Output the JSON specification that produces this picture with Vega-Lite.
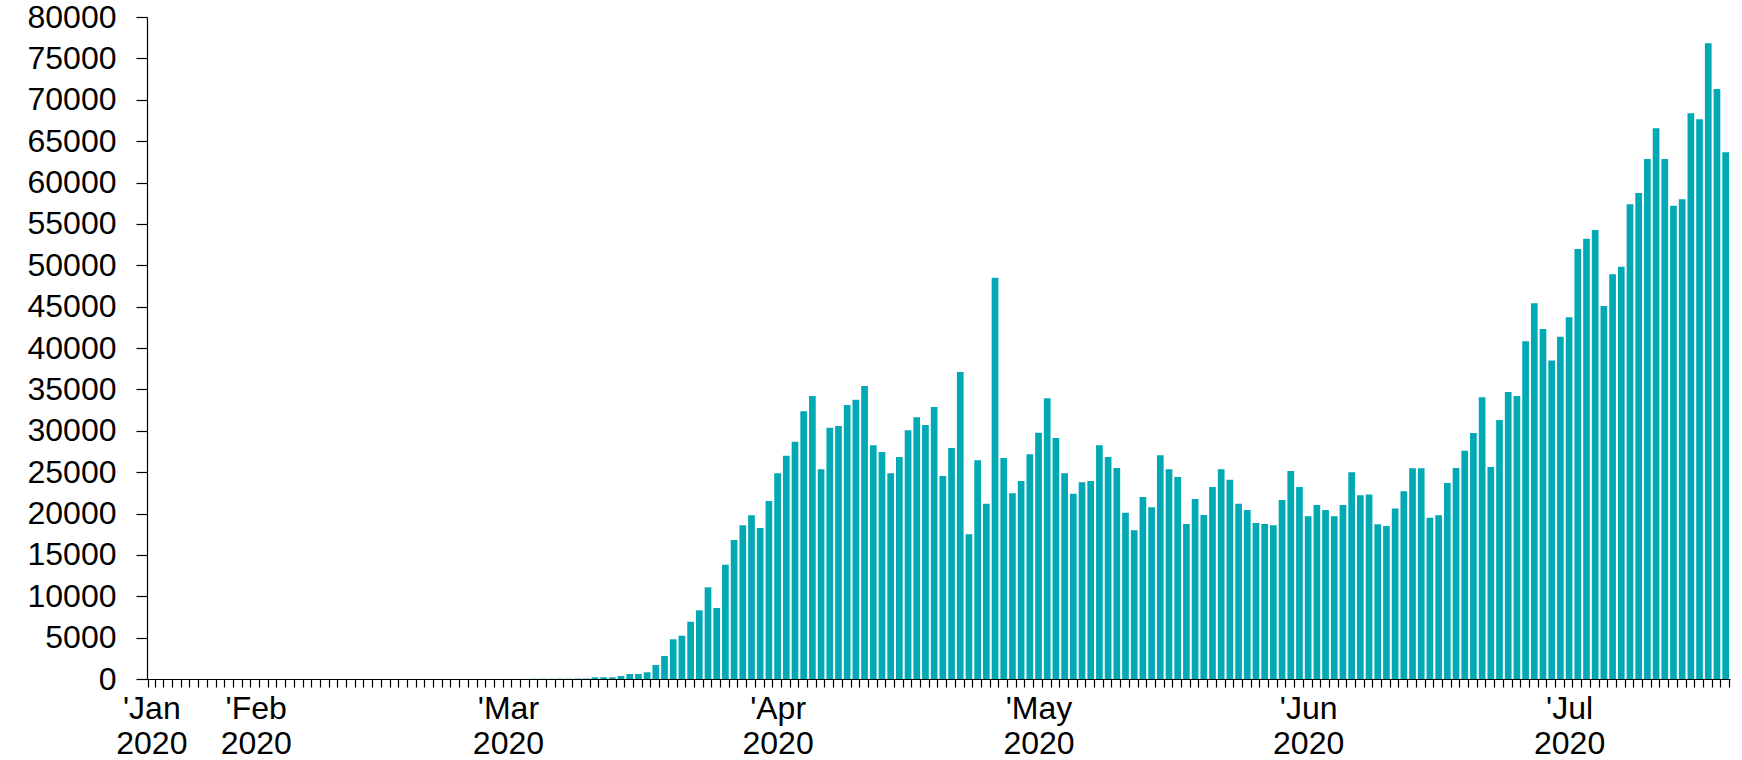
{
  "$schema": "https://vega.github.io/schema/vega-lite/v6.json",
  "autosize": {"type": "none"},
  "padding": {"left": 147, "top": 17, "right": 12, "bottom": 81},
  "width": 1583,
  "height": 662,
  "background": "white",
  "config": {
    "view": {"stroke": null},
    "axis": {"labelFont": "Liberation Sans", "labelColor": "#000000", "domainColor": "#000000", "tickColor": "#000000", "domainWidth": 1.2, "tickWidth": 1.2, "grid": false, "title": null}
  },
  "data": {"values": [
    {"date": "2020-01-20", "cases": 0}, {"date": "2020-01-21", "cases": 0}, {"date": "2020-01-22", "cases": 0}, {"date": "2020-01-23", "cases": 0},
    {"date": "2020-01-24", "cases": 0}, {"date": "2020-01-25", "cases": 0}, {"date": "2020-01-26", "cases": 0}, {"date": "2020-01-27", "cases": 0},
    {"date": "2020-01-28", "cases": 0}, {"date": "2020-01-29", "cases": 0}, {"date": "2020-01-30", "cases": 0}, {"date": "2020-01-31", "cases": 0},
    {"date": "2020-02-01", "cases": 0}, {"date": "2020-02-02", "cases": 0}, {"date": "2020-02-03", "cases": 0}, {"date": "2020-02-04", "cases": 0},
    {"date": "2020-02-05", "cases": 0}, {"date": "2020-02-06", "cases": 0}, {"date": "2020-02-07", "cases": 0}, {"date": "2020-02-08", "cases": 0},
    {"date": "2020-02-09", "cases": 0}, {"date": "2020-02-10", "cases": 0}, {"date": "2020-02-11", "cases": 0}, {"date": "2020-02-12", "cases": 0},
    {"date": "2020-02-13", "cases": 0}, {"date": "2020-02-14", "cases": 0}, {"date": "2020-02-15", "cases": 0}, {"date": "2020-02-16", "cases": 0},
    {"date": "2020-02-17", "cases": 0}, {"date": "2020-02-18", "cases": 0}, {"date": "2020-02-19", "cases": 0}, {"date": "2020-02-20", "cases": 0},
    {"date": "2020-02-21", "cases": 0}, {"date": "2020-02-22", "cases": 0}, {"date": "2020-02-23", "cases": 0}, {"date": "2020-02-24", "cases": 0},
    {"date": "2020-02-25", "cases": 0}, {"date": "2020-02-26", "cases": 0}, {"date": "2020-02-27", "cases": 0}, {"date": "2020-02-28", "cases": 0},
    {"date": "2020-02-29", "cases": 0},
    {"date": "2020-03-01", "cases": 5}, {"date": "2020-03-02", "cases": 10}, {"date": "2020-03-03", "cases": 15}, {"date": "2020-03-04", "cases": 20},
    {"date": "2020-03-05", "cases": 30}, {"date": "2020-03-06", "cases": 25}, {"date": "2020-03-07", "cases": 40}, {"date": "2020-03-08", "cases": 35},
    {"date": "2020-03-09", "cases": 50}, {"date": "2020-03-10", "cases": 55},
    {"date": "2020-03-11", "cases": 200}, {"date": "2020-03-12", "cases": 210}, {"date": "2020-03-13", "cases": 200}, {"date": "2020-03-14", "cases": 360},
    {"date": "2020-03-15", "cases": 600}, {"date": "2020-03-16", "cases": 600}, {"date": "2020-03-17", "cases": 810}, {"date": "2020-03-18", "cases": 1690},
    {"date": "2020-03-19", "cases": 2780}, {"date": "2020-03-20", "cases": 4800}, {"date": "2020-03-21", "cases": 5230}, {"date": "2020-03-22", "cases": 6920},
    {"date": "2020-03-23", "cases": 8300}, {"date": "2020-03-24", "cases": 11080}, {"date": "2020-03-25", "cases": 8580}, {"date": "2020-03-26", "cases": 13810},
    {"date": "2020-03-27", "cases": 16800}, {"date": "2020-03-28", "cases": 18570}, {"date": "2020-03-29", "cases": 19780}, {"date": "2020-03-30", "cases": 18250},
    {"date": "2020-03-31", "cases": 21510},
    {"date": "2020-04-01", "cases": 24860}, {"date": "2020-04-02", "cases": 26990}, {"date": "2020-04-03", "cases": 28680}, {"date": "2020-04-04", "cases": 32350},
    {"date": "2020-04-05", "cases": 34200}, {"date": "2020-04-06", "cases": 25340}, {"date": "2020-04-07", "cases": 30370}, {"date": "2020-04-08", "cases": 30580},
    {"date": "2020-04-09", "cases": 33110}, {"date": "2020-04-10", "cases": 33750}, {"date": "2020-04-11", "cases": 35410}, {"date": "2020-04-12", "cases": 28240},
    {"date": "2020-04-13", "cases": 27430}, {"date": "2020-04-14", "cases": 24860}, {"date": "2020-04-15", "cases": 26830}, {"date": "2020-04-16", "cases": 30050},
    {"date": "2020-04-17", "cases": 31620}, {"date": "2020-04-18", "cases": 30700}, {"date": "2020-04-19", "cases": 32870}, {"date": "2020-04-20", "cases": 24530},
    {"date": "2020-04-21", "cases": 27920}, {"date": "2020-04-22", "cases": 37100}, {"date": "2020-04-23", "cases": 17480}, {"date": "2020-04-24", "cases": 26430},
    {"date": "2020-04-25", "cases": 21190}, {"date": "2020-04-26", "cases": 48480}, {"date": "2020-04-27", "cases": 26710}, {"date": "2020-04-28", "cases": 22440},
    {"date": "2020-04-29", "cases": 23930}, {"date": "2020-04-30", "cases": 27150},
    {"date": "2020-05-01", "cases": 29770}, {"date": "2020-05-02", "cases": 33920}, {"date": "2020-05-03", "cases": 29120}, {"date": "2020-05-04", "cases": 24860},
    {"date": "2020-05-05", "cases": 22400}, {"date": "2020-05-06", "cases": 23770}, {"date": "2020-05-07", "cases": 23930}, {"date": "2020-05-08", "cases": 28240},
    {"date": "2020-05-09", "cases": 26830}, {"date": "2020-05-10", "cases": 25500}, {"date": "2020-05-11", "cases": 20100}, {"date": "2020-05-12", "cases": 17970},
    {"date": "2020-05-13", "cases": 21990}, {"date": "2020-05-14", "cases": 20750}, {"date": "2020-05-15", "cases": 27030}, {"date": "2020-05-16", "cases": 25340},
    {"date": "2020-05-17", "cases": 24410}, {"date": "2020-05-18", "cases": 18730}, {"date": "2020-05-19", "cases": 21750}, {"date": "2020-05-20", "cases": 19820},
    {"date": "2020-05-21", "cases": 23200}, {"date": "2020-05-22", "cases": 25340}, {"date": "2020-05-23", "cases": 24090}, {"date": "2020-05-24", "cases": 21190},
    {"date": "2020-05-25", "cases": 20420}, {"date": "2020-05-26", "cases": 18850}, {"date": "2020-05-27", "cases": 18730}, {"date": "2020-05-28", "cases": 18570},
    {"date": "2020-05-29", "cases": 21630}, {"date": "2020-05-30", "cases": 25140}, {"date": "2020-05-31", "cases": 23200},
    {"date": "2020-06-01", "cases": 19660}, {"date": "2020-06-02", "cases": 21030}, {"date": "2020-06-03", "cases": 20420}, {"date": "2020-06-04", "cases": 19660},
    {"date": "2020-06-05", "cases": 21030}, {"date": "2020-06-06", "cases": 25000}, {"date": "2020-06-07", "cases": 22200}, {"date": "2020-06-08", "cases": 22300},
    {"date": "2020-06-09", "cases": 18700}, {"date": "2020-06-10", "cases": 18500}, {"date": "2020-06-11", "cases": 20600}, {"date": "2020-06-12", "cases": 22700},
    {"date": "2020-06-13", "cases": 25460}, {"date": "2020-06-14", "cases": 25460}, {"date": "2020-06-15", "cases": 19500}, {"date": "2020-06-16", "cases": 19800},
    {"date": "2020-06-17", "cases": 23700}, {"date": "2020-06-18", "cases": 25500}, {"date": "2020-06-19", "cases": 27590}, {"date": "2020-06-20", "cases": 29730},
    {"date": "2020-06-21", "cases": 34040}, {"date": "2020-06-22", "cases": 25620}, {"date": "2020-06-23", "cases": 31300}, {"date": "2020-06-24", "cases": 34680},
    {"date": "2020-06-25", "cases": 34200}, {"date": "2020-06-26", "cases": 40810}, {"date": "2020-06-27", "cases": 45400}, {"date": "2020-06-28", "cases": 42300},
    {"date": "2020-06-29", "cases": 38500}, {"date": "2020-06-30", "cases": 41370},
    {"date": "2020-07-01", "cases": 43710}, {"date": "2020-07-02", "cases": 51970}, {"date": "2020-07-03", "cases": 53210}, {"date": "2020-07-04", "cases": 54260},
    {"date": "2020-07-05", "cases": 45080}, {"date": "2020-07-06", "cases": 48900}, {"date": "2020-07-07", "cases": 49830}, {"date": "2020-07-08", "cases": 57360},
    {"date": "2020-07-09", "cases": 58730}, {"date": "2020-07-10", "cases": 62840}, {"date": "2020-07-11", "cases": 66550}, {"date": "2020-07-12", "cases": 62840},
    {"date": "2020-07-13", "cases": 57200}, {"date": "2020-07-14", "cases": 57970}, {"date": "2020-07-15", "cases": 68360}, {"date": "2020-07-16", "cases": 67640},
    {"date": "2020-07-17", "cases": 76820}, {"date": "2020-07-18", "cases": 71300}, {"date": "2020-07-19", "cases": 63650}
  ]},
  "mark": {"type": "bar", "color": "#00A9B4"},
  "encoding": {
    "x": {
      "field": "date",
      "type": "ordinal",
      "scale": {"type": "band", "paddingInner": 0.23, "paddingOuter": 0.115},
      "axis": {
        "labelAngle": 0,
        "labelFontSize": 32,
        "labelLineHeight": 35,
        "labelPadding": 6,
        "labelOverlap": false,
        "labelFlush": false,
        "labelBound": false,
        "tickBand": "extent",
        "tickSize": 8,
        "labelExpr": "(('' + datum.value) == '2020-01-20' || slice('' + datum.value, 8, 10) == '01') ? [\"'\" + (['Jan','Feb','Mar','Apr','May','Jun','Jul'])[toNumber(slice('' + datum.value, 5, 7)) - 1], '2020'] : ''"
      }
    },
    "y": {
      "field": "cases",
      "type": "quantitative",
      "scale": {"domain": [0, 80000], "nice": false},
      "axis": {
        "values": [0, 5000, 10000, 15000, 20000, 25000, 30000, 35000, 40000, 45000, 50000, 55000, 60000, 65000, 70000, 75000, 80000],
        "labelFontSize": 32,
        "labelPadding": 20,
        "tickSize": 11,
        "format": "d"
      }
    }
  }
}
